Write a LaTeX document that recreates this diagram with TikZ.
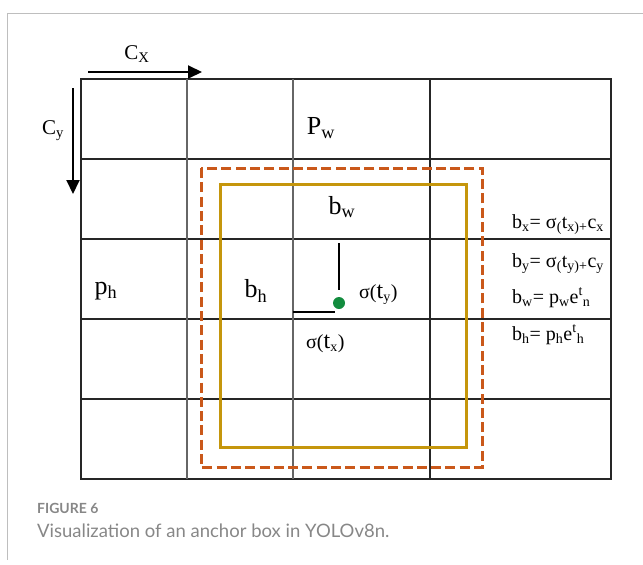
\documentclass[tikz,border=0pt]{standalone}
\usepackage{fontspec}
\setmainfont{Liberation Serif}
\newfontfamily\capfont{Lato}
\usetikzlibrary{arrows.meta}
\definecolor{anchorgold}{RGB}{197,150,12}
\definecolor{predorange}{RGB}{202,88,26}
\definecolor{dotgreen}{RGB}{18,140,62}
\definecolor{framegray}{RGB}{190,190,190}
\definecolor{captiongray}{RGB}{135,135,135}
\newcommand{\lo}[1]{\textsubscript{#1}}
\begin{document}
\begin{tikzpicture}[x=1pt, y=-1pt,
    gridline/.style={draw=black!85, line width=1.2pt},
    biglabel/.style={font=\fontsize{26}{30}\selectfont, inner sep=0pt},
    eqlabel/.style={font=\fontsize{20}{24}\selectfont, inner sep=0pt, anchor=base west},
    offsetline/.style={line width=2pt},
    axisarrow/.style={line width=2pt, -{Triangle[length=14pt, width=13pt]}}
]
    \useasboundingbox (0,0) rectangle (643,565);

    % Frame
    \draw[framegray, line width=1pt] (643,13) -- (7,13) -- (7,560);

    % Grid
    \draw[gridline] (81,79) rectangle (611,479);
    \draw[gridline] (81,159) -- (611,159);
    \draw[gridline] (81,239) -- (611,239);
    \draw[gridline] (81,319) -- (611,319);
    \draw[gridline] (81,399) -- (611,399);
    \draw[gridline, draw=black!60] (187,79) -- (187,479);
    \draw[gridline, draw=black!60] (293,79) -- (293,479);
    \draw[gridline] (430,79) -- (430,479);

    % Grid offsets
    \coordinate (cx0) at (88,72);
    \coordinate (cx1) at (202,72);
    \coordinate (cy0) at (73,88);
    \coordinate (cy1) at (73,194);
    \draw[axisarrow] (cx0) -- (cx1);
    \draw[axisarrow] (cy0) -- (cy1);
    \node[font=\fontsize{21}{24}\selectfont, inner sep=0pt] (cxlab) at (137,54) {C\lo{X}};
    \node[font=\fontsize{21}{24}\selectfont, inner sep=0pt] (cylab) at (53,131) {C\lo{y}};

    % Predicted and anchor boxes
    \draw[predorange, line width=3pt, dash pattern=on 10pt off 4.3pt] (201,168) rectangle (482,467);
    \draw[anchorgold, line width=3pt] (220,184) rectangle (466,447);

    % Labels
    \node[biglabel] (pw) at (321,128) {P\lo{w}};
    \node[biglabel] (bw) at (342,207) {b\lo{w}};
    \node[biglabel] (ph) at (106,291) {p\lo{h}};
    \node[biglabel] (bh) at (256,291) {b\lo{h}};

    % Centre offsets
    \node[circle, fill=dotgreen, inner sep=0pt, minimum size=12pt] (centre) at (339,303) {};
    \coordinate (ty0) at (339,243);
    \coordinate (ty1) at (339,290);
    \coordinate (tx0) at (293,312);
    \coordinate (tx1) at (335,312);
    \draw[offsetline] (ty0) -- (ty1);
    \draw[offsetline] (tx0) -- (tx1);
    \node[font=\fontsize{20}{24}\selectfont, inner sep=0pt, anchor=base west] (sigy) at (359,298) {σ({\fontsize{24}{28}\selectfont t}\lo{y})};
    \node[font=\fontsize{20}{24}\selectfont, inner sep=0pt, anchor=base west] (sigx) at (306,348) {σ({\fontsize{24}{28}\selectfont t}\lo{x})};

    % Equations
    \node[eqlabel] (eqx) at (512,228) {b\lo{x}= σ\lo{(}t\lo{x)+}c\lo{x}};
    \node[eqlabel] (eqy) at (512,267) {b\lo{y}= σ\lo{(}t\lo{y)+}c\lo{y}};
    \node[eqlabel] (eqw) at (512,303) {b\lo{w}= p\lo{w}e\textsuperscript{t}\lo{n}};
    \node[eqlabel] (eqh) at (512,340) {b\lo{h}= p\lo{h}e\textsuperscript{t}\lo{h}};

    % Caption
    \node[font=\capfont\bfseries\fontsize{14}{17}\selectfont, text=captiongray, inner sep=0pt, anchor=base west] (fig) at (37,513) {FIGURE 6};
    \node[font=\capfont\fontsize{18.5}{22}\selectfont, text=captiongray, inner sep=0pt, anchor=base west] (cap) at (37,537) {Visualization of an anchor box in YOLOv8n.};
\end{tikzpicture}
\end{document}
